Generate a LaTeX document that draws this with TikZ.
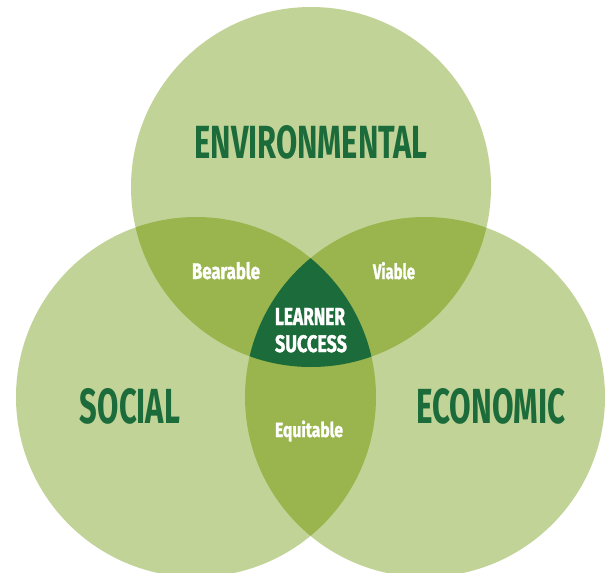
\documentclass[tikz,border=0pt]{standalone}
\usepackage{fontspec}
\setmainfont{Fira Sans}
\newfontfamily\heavyfont[BoldFeatures={FakeBold=1.6}]{Fira Sans}
\usepackage{graphicx}
\definecolor{leaf}{HTML}{C1D396}
\definecolor{moss}{HTML}{9AB54D}
\definecolor{forest}{HTML}{1C6B3A}
\begin{document}
\begin{tikzpicture}[x=1pt,y=-1pt,
  bigword/.style={inner sep=0pt,anchor=base,text=forest,font=\bfseries},
  smallword/.style={inner sep=0pt,anchor=base,text=white,font=\heavyfont\bfseries}]
\useasboundingbox (0,0) rectangle (611,573);
% circle centres and radius
\def\rad{180}
\coordinate (env) at (311,187);
\coordinate (soc) at (196,397);
\coordinate (eco) at (425,397);
% single circles
\fill[leaf] (env) circle (\rad);
\fill[leaf] (soc) circle (\rad);
\fill[leaf] (eco) circle (\rad);
% pairwise overlaps
\begin{scope}
  \clip (env) circle (\rad);
  \fill[moss] (soc) circle (\rad);
  \fill[moss] (eco) circle (\rad);
\end{scope}
\begin{scope}
  \clip (soc) circle (\rad);
  \fill[moss] (eco) circle (\rad);
\end{scope}
% centre
\begin{scope}
  \clip (env) circle (\rad);
  \clip (soc) circle (\rad);
  \fill[forest] (eco) circle (\rad);
\end{scope}
% labels
\node[bigword] (tEnv) at (311,158) {\resizebox{233pt}{33pt}{ENVIRONMENTAL}};
\node[bigword] (tSoc) at (130,423) {\resizebox{100pt}{35pt}{SOCIAL}};
\node[bigword] (tEco) at (491,423) {\resizebox{149pt}{35pt}{ECONOMIC}};
\node[smallword] (tBear) at (226,279) {\resizebox{68pt}{17pt}{Bearable}};
\node[smallword] (tVia) at (394,279) {\resizebox{42pt}{17pt}{Viable}};
\node[smallword] (tEqu) at (309,437) {\resizebox{68pt}{16.5pt}{Equitable}};
\node[smallword] (tLea) at (310,325) {\resizebox{70pt}{17pt}{LEARNER}};
\node[smallword] (tSuc) at (311,352) {\resizebox{72pt}{17pt}{SUCCESS}};
\end{tikzpicture}
\end{document}
